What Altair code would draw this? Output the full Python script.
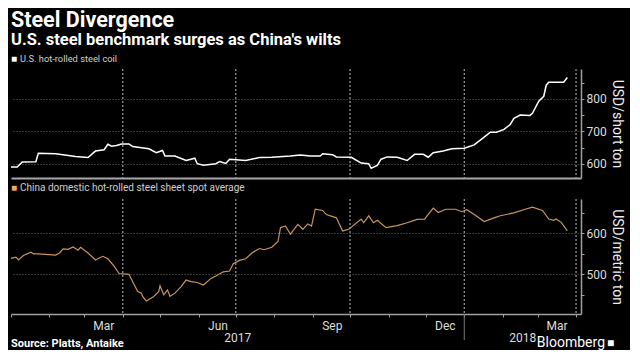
import altair as alt
import pandas as pd

# ---------------- data ----------------
us_dates = [
    "2017-01-01", "2017-01-06", "2017-01-10", "2017-01-21", "2017-01-23", "2017-02-06",
    "2017-02-22", "2017-03-04", "2017-03-10", "2017-03-17", "2017-03-20", "2017-03-23",
    "2017-03-27", "2017-03-31", "2017-04-06", "2017-04-09", "2017-04-22", "2017-04-28",
    "2017-05-03", "2017-05-05", "2017-05-13", "2017-05-22", "2017-05-29", "2017-05-31",
    "2017-06-05", "2017-06-15", "2017-06-18", "2017-06-23", "2017-06-26", "2017-07-09",
    "2017-07-20", "2017-07-30", "2017-08-14", "2017-08-22", "2017-08-30", "2017-09-07",
    "2017-09-09", "2017-09-17", "2017-09-20", "2017-10-02", "2017-10-10", "2017-10-16",
    "2017-10-18", "2017-10-23", "2017-10-26", "2017-10-31", "2017-11-08", "2017-11-16",
    "2017-11-22", "2017-11-29", "2017-12-03", "2017-12-07", "2017-12-15", "2017-12-22",
    "2018-01-01", "2018-01-09", "2018-01-17", "2018-01-22", "2018-01-27", "2018-02-02",
    "2018-02-07", "2018-02-10", "2018-02-15", "2018-02-23", "2018-02-25", "2018-03-02",
    "2018-03-06", "2018-03-08", "2018-03-10", "2018-03-17", "2018-03-22", "2018-03-25",
]
us_values = [
    590, 590, 605, 606, 632, 631,
    622, 619, 639, 643, 660, 654,
    656, 661, 661, 653, 646, 634,
    641, 624, 624, 610, 617, 600,
    595, 600, 607, 601, 614, 610,
    619, 620, 624, 627, 624, 624,
    631, 628, 621, 620, 602, 600,
    586, 595, 614, 621, 620, 610,
    629, 629, 620, 634, 639, 646,
    648, 658, 682, 697, 697, 706,
    721, 740, 750, 749, 756, 793,
    808, 842, 851, 851, 851, 866,
]

cn_dates = [
    "2017-01-01", "2017-01-05", "2017-01-07", "2017-01-11", "2017-01-17", "2017-01-19",
    "2017-01-23", "2017-02-06", "2017-02-09", "2017-02-12", "2017-02-16", "2017-02-20",
    "2017-02-24", "2017-02-26", "2017-03-04", "2017-03-10", "2017-03-16", "2017-03-20",
    "2017-03-25", "2017-03-29", "2017-04-06", "2017-04-09", "2017-04-13", "2017-04-16",
    "2017-04-17", "2017-04-20", "2017-04-26", "2017-04-30", "2017-05-01", "2017-05-04",
    "2017-05-07", "2017-05-09", "2017-05-13", "2017-05-18", "2017-05-22", "2017-05-26",
    "2017-05-31", "2017-06-05", "2017-06-11", "2017-06-15", "2017-06-21", "2017-06-26",
    "2017-06-29", "2017-07-04", "2017-07-09", "2017-07-14", "2017-07-20", "2017-07-24",
    "2017-07-30", "2017-08-04", "2017-08-06", "2017-08-10", "2017-08-14", "2017-08-20",
    "2017-08-24", "2017-08-28", "2017-08-31", "2017-09-03", "2017-09-09", "2017-09-12",
    "2017-09-20", "2017-09-25", "2017-09-30", "2017-10-10", "2017-10-12", "2017-10-16",
    "2017-10-20", "2017-10-23", "2017-10-30", "2017-11-08", "2017-11-16", "2017-11-24",
    "2017-11-30", "2017-12-07", "2017-12-11", "2017-12-17", "2017-12-25", "2017-12-30",
    "2018-01-03", "2018-01-09", "2018-01-17", "2018-01-25", "2018-01-30", "2018-02-10",
    "2018-02-19", "2018-02-25", "2018-03-05", "2018-03-10", "2018-03-14", "2018-03-16",
    "2018-03-20", "2018-03-25",
]
cn_values = [
    539, 542, 535, 546, 554, 550,
    550, 547, 552, 562, 561, 567,
    559, 566, 552, 535, 544, 538,
    520, 502, 500, 482, 458, 454,
    446, 435, 446, 458, 472, 450,
    462, 446, 454, 470, 486, 482,
    480, 474, 490, 496, 506, 508,
    526, 534, 538, 552, 563, 560,
    566, 580, 614, 618, 598, 622,
    610, 623, 618, 659, 656, 646,
    638, 606, 610, 635, 626, 643,
    626, 632, 614, 619, 626, 634,
    635, 662, 651, 659, 659, 653,
    658, 646, 629, 638, 643, 650,
    659, 664, 656, 635, 632, 635,
    627, 606,
]

us_label = "U.S. hot-rolled steel coil"
cn_label = "China domestic hot-rolled steel sheet spot average"
title_text = "Steel Divergence"
subtitle_text = "U.S. steel benchmark surges as China's wilts"
source_text = "Source: Platts, Antaike"
brand_text = "Bloomberg"
us_ticks = [600, 650, 700, 750, 800, 850]
cn_ticks = [450, 500, 550, 600, 650]
year_labels = ["2017", "2018"]
year_starts = ["2017-01-01", "2018-01-01"]
x_start = "2017-01-01"
x_end = "2018-04-05"

# ---------------- layout / style ----------------
W, H1, H2, GAP = 570, 109, 115, 21
BG = "#000000"
XGRID = "#a0a0a0"
YGRID = "#6e6e6e"
AXIS_LINE = "#a0a0a0"
LABEL = "#dddddd"
SANS = "Roboto, sans-serif"
US_COLOR = "#ffffff"
CN_COLOR = "#c9955c"
CN_KEY = "#f4a85a"

us = pd.DataFrame({"date": pd.to_datetime(us_dates), "value": us_values})
cn = pd.DataFrame({"date": pd.to_datetime(cn_dates), "value": cn_values})

ys = pd.to_datetime(year_starts)
ye = list(ys[1:]) + [pd.Timestamp(x_end)]
years = pd.DataFrame({
    "date": [a + (b - a) / 2 for a, b in zip(ys, ye)],
    "label": year_labels,
})
sep = pd.DataFrame({"date": ys[1:]})


def dt(ts):
    return alt.DateTime(year=ts.year, month=ts.month, date=ts.day)


xs, xe = pd.Timestamp(x_start), pd.Timestamp(x_end)
x_scale = alt.Scale(domain=[dt(xs), dt(xe)])
month_starts = [dt(t) for t in pd.date_range(xs, xe, freq="MS")]
quarters = pd.DataFrame({"date": pd.date_range(xs + pd.Timedelta(days=1), xe, freq="QS")})


def y_axis(title, ticks):
    return alt.Axis(
        orient="right", title=title, values=ticks,
        labelExpr="datum.value % 100 == 0 ? datum.label : ''",
        labelOverlap=False, labelFont=SANS, labelFontSize=12, labelColor=LABEL,
        labelPadding=2,
        grid=True, gridColor=YGRID, gridDash=[1, 2],
        gridOpacity={"condition": {"test": "datum.value % 100 == 0", "value": 1}, "value": 0},
        ticks=True, tickSize=3, tickColor=AXIS_LINE,
        domain=True, domainColor=AXIS_LINE, domainWidth=1.5,
        titleFont=SANS, titleFontSize=14, titleFontWeight="normal", titleColor="#eeeeee",
        titlePadding=3,
    )


top_x_axis = alt.Axis(
    title=None, labels=False, ticks=False, values=month_starts, grid=False,
    domain=True, domainColor="#a8a8a8", domainWidth=2,
)

bot_x_axis = alt.Axis(
    title=None, values=month_starts, grid=False,
    labelExpr="month(datum.value) % 3 == 2 ? timeFormat(datum.value, '%b') : ''",
    labelOffset=19, labelFlush=False, labelOverlap=False, labelPadding=3,
    labelFont=SANS, labelFontSize=12, labelColor=LABEL,
    ticks=True, tickSize=3, tickColor=AXIS_LINE,
    domain=True, domainColor=AXIS_LINE, domainWidth=1.5,
)


def text_layer(txt, x, y, size, color, font=SANS, weight="normal", align="left", baseline="middle"):
    return alt.Chart(pd.DataFrame({"t": [txt]})).mark_text(
        align=align, baseline=baseline, font=font, fontSize=size,
        fontWeight=weight, color=color,
    ).encode(text="t:N", x=alt.value(x), y=alt.value(y))


def quarter_grid(axis, h):
    return alt.Chart(quarters).mark_rule(color=XGRID, strokeWidth=1.2, strokeDash=[2, 2]).encode(
        x=alt.X("date:T", scale=x_scale, axis=axis), y=alt.value(0), y2=alt.value(h),
    )


# ---------------- top panel ----------------
us_line = alt.Chart(us).mark_line(color=US_COLOR, strokeWidth=1.5).encode(
    x=alt.X("date:T", scale=x_scale, axis=top_x_axis),
    y=alt.Y("value:Q", scale=alt.Scale(domain=[556, 892], nice=False, zero=False),
            axis=y_axis("USD/short ton", us_ticks)),
)

top = alt.layer(
    quarter_grid(top_x_axis, H1),
    us_line,
    text_layer("■", 0, -10, 10, US_COLOR),
    text_layer(us_label, 9, -10, 9.3, "#cfcfcf"),
    text_layer(title_text, 0, -42, 21.5, "#ffffff", weight="bold", baseline="alphabetic"),
    text_layer(subtitle_text, 0, -24, 16.5, "#ffffff", weight="bold", baseline="alphabetic"),
).properties(width=W, height=H1)

# ---------------- bottom panel ----------------
cn_line = alt.Chart(cn).mark_line(color=CN_COLOR, strokeWidth=1.2).encode(
    x=alt.X("date:T", scale=x_scale, axis=bot_x_axis),
    y=alt.Y("value:Q", scale=alt.Scale(domain=[403, 684], nice=False, zero=False),
            axis=y_axis("USD/metric ton", cn_ticks)),
)

year_text = alt.Chart(years).mark_text(
    font=SANS, fontSize=12, color=LABEL, baseline="middle",
).encode(x=alt.X("date:T", scale=x_scale, axis=bot_x_axis), y=alt.value(H2 + 24), text="label:N")

year_sep = alt.Chart(sep).mark_rule(color="#7a7a7a", strokeWidth=1).encode(
    x=alt.X("date:T", scale=x_scale, axis=bot_x_axis), y=alt.value(H2), y2=alt.value(H2 + 26),
)

bottom = alt.layer(
    quarter_grid(bot_x_axis, H2),
    cn_line,
    year_text,
    year_sep,
    text_layer("■", 0, -11, 10, CN_KEY),
    text_layer(cn_label, 9, -11, 10, "#cfcfcf"),
    text_layer(source_text, 0, H2 + 30, 11, "#ffffff", weight="bold"),
    text_layer(brand_text, W + 24, H2 + 29, 14, "#ffffff", align="right"),
    text_layer("■", W + 26, H2 + 29, 12, "#ffffff"),
).properties(width=W, height=H2)

chart = alt.vconcat(top, bottom, spacing=GAP, bounds="flush").properties(
    background=BG, padding={"left": 0, "top": 2, "right": 6, "bottom": 0},
).configure_view(strokeWidth=0)

chart.save("out.html", embed_options={"renderer": "svg", "actions": False})
